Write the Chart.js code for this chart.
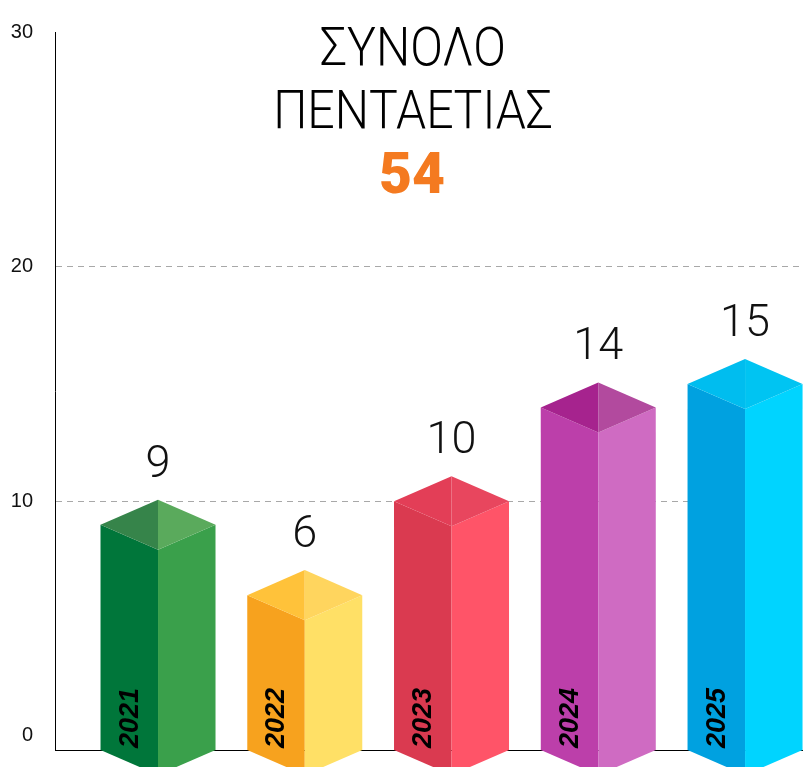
<!DOCTYPE html>
<html>
<head>
<meta charset="utf-8">
<script src="https://cdn.jsdelivr.net/npm/chart.js@4/dist/chart.umd.min.js"></script>
<style>
  html, body { margin: 0; padding: 0; background: #fff; }
  #wrap { width: 803px; height: 767px; position: relative; }
</style>
</head>
<body>
<div id="wrap"><canvas id="c"></canvas></div>
<script>
// Cases per year over the five-year period
const years = ['2021', '2022', '2023', '2024', '2025'];
const counts = [9, 6, 10, 14, 15];
const yTicks = [0, 10, 20, 30];
const titleLines = ['ΣΥΝΟΛΟ', 'ΠΕΝΤΑΕΤΙΑΣ'];
const total = counts.reduce((a, b) => a + b, 0);

// Face colours of each prism: front-left, front-right, top-left, top-right
const leftFace  = ['#00763a', '#f7a21e', '#da3a50', '#bc3faa', '#00a1e0'];
const rightFace = ['#3aa04b', '#ffe066', '#ff5468', '#cf6bc2', '#00d4ff'];
const topLeft   = ['#36844a', '#ffc23a', '#e33e57', '#a6238e', '#00bdef'];
const topRight  = ['#5aaa5c', '#ffd55e', '#e8465e', '#b24a9e', '#00c4f2'];

const Y_MIN = -0.6;

function poly(ctx, pts, color) {
  ctx.beginPath();
  ctx.moveTo(pts[0][0], pts[0][1]);
  for (let i = 1; i < pts.length; i++) ctx.lineTo(pts[i][0], pts[i][1]);
  ctx.closePath();
  ctx.fillStyle = color;
  ctx.fill();
}

// Draws every bar as an isometric prism, with its value above and year on its side
const prismPlugin = {
  id: 'prism',
  afterDatasetsDraw(chart) {
    const ctx = chart.ctx;
    const meta = chart.getDatasetMeta(0);
    meta.data.forEach((el, i) => {
      const { x, y, base, width } = el.getProps(['x', 'y', 'base', 'width'], true);
      const hw = width / 2;
      const d = hw * 0.435;
      ctx.save();
      poly(ctx, [[x - hw, y], [x, y + d], [x, base + d], [x - hw, base]], leftFace[i]);
      poly(ctx, [[x, y + d], [x + hw, y], [x + hw, base], [x, base + d]], rightFace[i]);
      poly(ctx, [[x - hw, y], [x, y - d], [x, y + d]], topLeft[i]);
      poly(ctx, [[x, y - d], [x + hw, y], [x, y + d]], topRight[i]);

      // value above the prism
      ctx.fillStyle = '#111';
      ctx.font = '300 45px Roboto, "Liberation Sans", sans-serif';
      ctx.textAlign = 'center';
      ctx.textBaseline = 'alphabetic';
      ctx.fillText(String(counts[i]), x, y - d - 23);

      // year, rotated, on the left face
      ctx.translate(x - hw / 2 + 1, base - 2);
      ctx.rotate(-Math.PI / 2);
      ctx.font = 'italic bold 27px "Liberation Sans", Arial, sans-serif';
      ctx.textAlign = 'left';
      ctx.textBaseline = 'middle';
      ctx.fillStyle = '#000';
      ctx.fillText(years[i], 0, 0);
      ctx.restore();
    });
  }
};

// Heading with the five-year total
const headingPlugin = {
  id: 'heading',
  afterDraw(chart) {
    const ctx = chart.ctx;
    const cx = 413;
    ctx.save();
    ctx.textAlign = 'center';
    ctx.textBaseline = 'alphabetic';
    ctx.fillStyle = '#000';
    ctx.font = '300 53px Roboto, "Liberation Sans", sans-serif';
    [65, 128].forEach((by, k) => {
      ctx.save();
      ctx.translate(cx, by);
      ctx.scale(0.91, 1);
      ctx.fillText(titleLines[k], 0, 0);
      ctx.restore();
    });
    ctx.font = '900 57px Roboto, "Liberation Sans", sans-serif';
    ctx.fillStyle = '#f47a20';
    ctx.fillText(String(total), cx - 1, 193);
    ctx.restore();
  }
};

new Chart(document.getElementById('c'), {
  type: 'bar',
  data: {
    datasets: [{
      data: years.map((yr, i) => ({ x: i, y: counts[i] })),
      base: Y_MIN,
      backgroundColor: 'rgba(0,0,0,0)',
      borderWidth: 0,
      barThickness: 115
    }]
  },
  options: {
    responsive: true,
    maintainAspectRatio: false,
    animation: false,
    events: [],
    layout: { padding: { top: 32, left: 0, right: 0, bottom: 0 } },
    plugins: { legend: { display: false }, tooltip: { enabled: false }, title: { display: false } },
    scales: {
      x: {
        type: 'linear',
        offset: false,
        min: -0.702,
        max: 4.395,
        afterBuildTicks(scale) { scale.ticks = years.map((yr, i) => ({ value: i })); },
        afterFit(scale) { scale.height = 17; scale.paddingLeft = 0; scale.paddingRight = 0; },
        ticks: { display: false },
        grid: { offset: false, drawOnChartArea: false, drawTicks: false },
        border: { display: true, color: '#000', width: 1 }
      },
      y: {
        min: Y_MIN,
        max: 30,
        afterBuildTicks(scale) { scale.ticks = yTicks.map(v => ({ value: v })); },
        afterFit(scale) { scale.width = 55; scale.paddingTop = 0; scale.paddingBottom = 0; },
        ticks: {
          padding: 22,
          color: '#111',
          font: { family: '"Liberation Sans", Arial, sans-serif', size: 20 }
        },
        grid: {
          drawTicks: false,
          color: (c) => (c.tick && (c.tick.value === 10 || c.tick.value === 20)) ? '#a8a8a8' : 'rgba(0,0,0,0)',
          lineWidth: 1
        },
        border: { display: true, color: '#000', width: 1, dash: [6, 5] }
      }
    }
  },
  plugins: [prismPlugin, headingPlugin]
});
</script>
</body>
</html>
